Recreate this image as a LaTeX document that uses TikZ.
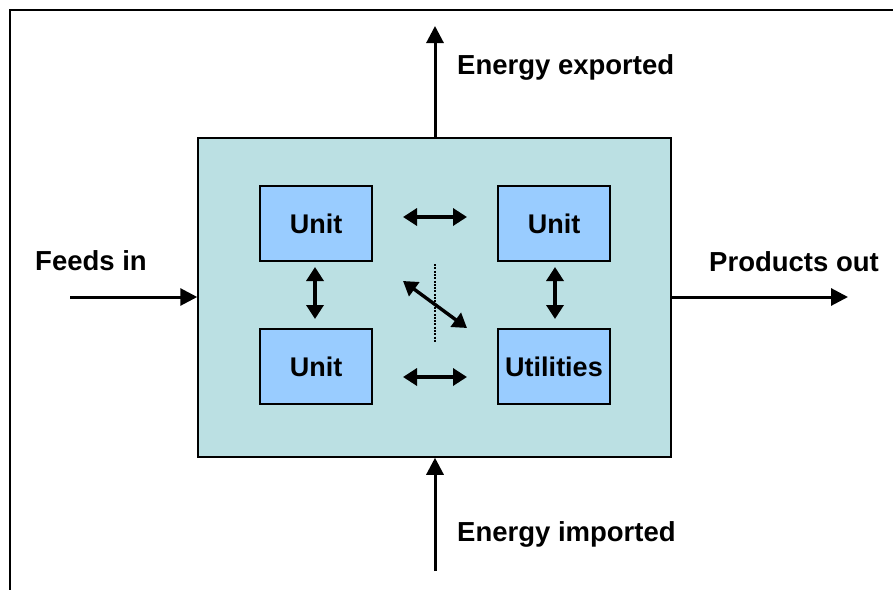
\documentclass[tikz,border=0pt]{standalone}
\usepackage{fontspec}
\setmainfont{Liberation Sans}
\usetikzlibrary{arrows.meta}
\definecolor{outerfill}{RGB}{187,224,227}
\definecolor{unitfill}{RGB}{153,204,255}
\begin{document}
\begin{tikzpicture}[x=1pt,y=-1pt,
  lbl/.style={font=\fontsize{27.5}{32}\selectfont\bfseries, inner sep=0pt, anchor=base west},
  unitbox/.style={draw=black, line width=1.5pt, fill=unitfill, minimum width=112pt, minimum height=75pt, inner sep=0pt, font=\fontsize{27}{32}\selectfont\bfseries},
  bigarrow/.style={line width=3pt, -{Triangle[length=17pt,width=17pt]}},
  smallarrow/.style={line width=3.4pt, {Triangle[length=14pt,width=17pt]}-{Triangle[length=14pt,width=17pt]}},
]
\useasboundingbox (0,0) rectangle (893,589);
\begin{scope}
\clip (0,0) rectangle (893,589);
\draw[line width=2pt] (10,600) -- (10,10) -- (900,10);
\end{scope}
\node[draw=black, line width=1.5pt, fill=outerfill, minimum width=473pt, minimum height=319pt, inner sep=0pt] (plant) at (434.5,297.5) {};
\node[unitbox] (u1) at (316,223.5) {Unit};
\node[unitbox] (u2) at (554,223.5) {Unit};
\node[unitbox] (u3) at (316,366.5) {Unit};
\node[unitbox] (ut) at (554,366.5) {Utilities};
% external arrows
\coordinate (expTop) at (435,26);
\coordinate (impBot) at (435,571);
\coordinate (feedStart) at (70,297);
\coordinate (prodEnd) at (848,297);
\draw[bigarrow] (plant.north -| expTop) -- (expTop);
\draw[bigarrow] (impBot) -- (plant.south -| impBot);
\draw[bigarrow] (feedStart) -- (plant.west |- feedStart);
\draw[bigarrow] (plant.east |- prodEnd) -- (prodEnd);
% internal arrows
\coordinate (h1a) at (403,217); \coordinate (h1b) at (467,217);
\coordinate (h2a) at (403,377); \coordinate (h2b) at (467,377);
\coordinate (v1a) at (315,267); \coordinate (v1b) at (315,319);
\coordinate (v2a) at (555,267); \coordinate (v2b) at (555,319);
\coordinate (d1) at (403,281); \coordinate (d2) at (467,328);
\draw[smallarrow] (h1a) -- (h1b);
\draw[smallarrow] (h2a) -- (h2b);
\draw[smallarrow] (v1a) -- (v1b);
\draw[smallarrow] (v2a) -- (v2b);
\draw[smallarrow] (d1) -- (d2);
\coordinate (dotTop) at (435,264); \coordinate (dotBot) at (435,343);
\draw[line width=2pt, dash pattern=on 2pt off 1.3pt] (dotTop) -- (dotBot);
% labels
\node[lbl] (lexp) at (457,74) {Energy exported};
\node[lbl] (limp) at (457,541) {Energy imported};
\node[lbl] (lfeed) at (35,270) {Feeds in};
\node[lbl] (lprod) at (709,271) {Products out};
\end{tikzpicture}
\end{document}
